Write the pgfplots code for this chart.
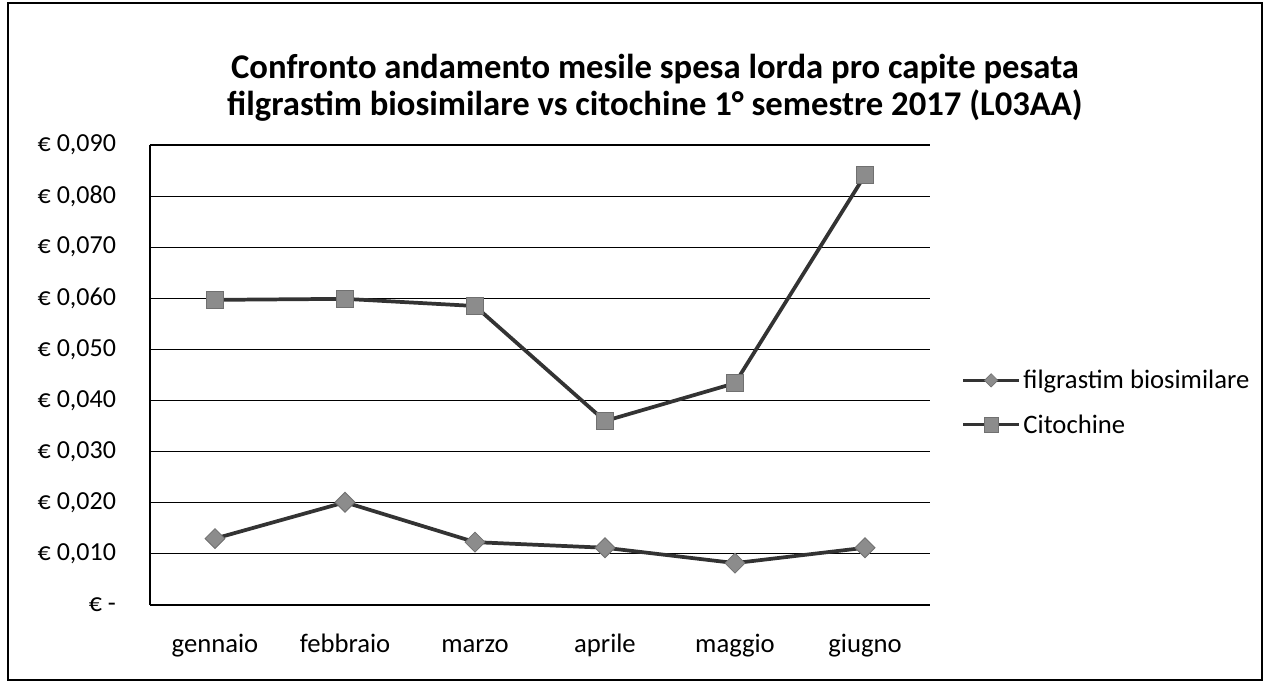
\documentclass[border=0pt]{standalone}
\usepackage{fontspec}
\setmainfont{Carlito}
\usepackage{pgfplots}
\pgfplotsset{compat=1.18}
\definecolor{linea}{HTML}{333333}
\definecolor{marca}{HTML}{8C8C8C}
\begin{document}
\begin{tikzpicture}[x=0.75pt,y=0.75pt]
% pagina: 1267x683 px, origine = angolo in basso a sinistra dell'area del grafico (150,605)
\useasboundingbox (-150,-78) rectangle (1117,605);
\draw[line width=1.2pt] (-142,-75) rectangle (1112,602);
\begin{axis}[
  scale only axis,
  width=585pt, height=345pt,
  at={(0,0)}, anchor=south west,
  xmin=-0.5, xmax=5.5,
  ymin=0, ymax=0.09,
  scaled y ticks=false,
  xtick={0,...,5},
  xticklabels={gennaio,febbraio,marzo,aprile,maggio,giugno},
  ytick={0,0.01,...,0.09},
  yticklabels={{€ -\hspace{1.1em}},{€ 0,010},{€ 0,020},{€ 0,030},{€ 0,040},{€ 0,050},{€ 0,060},{€ 0,070},{€ 0,080},{€ 0,090}},
  ymajorgrids,
  grid style={black, line width=0.9pt},
  axis x line*=bottom, axis y line*=left,
  axis line style={black, line width=0.9pt},
  major tick length=0pt,
  tick label style={font=\fontsize{20}{22}\selectfont},
  yticklabel style={font=\fontsize{19.5}{22}\selectfont, xshift=-22pt},
  xticklabel style={yshift=-25pt, text height=1.5ex, text depth=0.3ex},
  legend style={draw=none, fill=none, at={(1.035,0.44)}, anchor=west,
    font=\fontsize{20}{22}\selectfont, row sep=14pt},
  legend cell align=left,
  clip=false,
]
\addplot[linea, line width=2.8pt, mark=square*, mark size=5.3pt,
  mark options={rotate=45, fill=marca, draw=linea!70, line width=0.6pt},
  legend image code/.code={
    \draw[linea, line width=2.4pt] (0pt,0pt) -- (42pt,0pt);
    \draw[fill=marca, draw=linea!70, line width=0.5pt] (21pt,-5pt) -- (26pt,0pt) -- (21pt,5pt) -- (16pt,0pt) -- cycle;
  }] coordinates {
  (0,0.0130) (1,0.0201) (2,0.0123) (3,0.0112) (4,0.0082) (5,0.0112)};
\addlegendentry{filgrastim biosimilare}
\addplot[linea, line width=2.8pt, mark=square*, mark size=6.5pt,
  mark options={fill=marca, draw=linea!70, line width=0.6pt},
  legend image code/.code={
    \draw[linea, line width=2.4pt] (0pt,0pt) -- (42pt,0pt);
    \draw[fill=marca, draw=linea!70, line width=0.5pt] (15.5pt,-5.5pt) rectangle (26.5pt,5.5pt);
  }] coordinates {
  (0,0.0597) (1,0.0599) (2,0.0585) (3,0.0360) (4,0.0434) (5,0.0841)};
\addlegendentry{Citochine}
\end{axis}
\node[align=center, font=\bfseries\fontsize{26}{28}\selectfont] at (505,517)
  {Confronto andamento mesile spesa lorda pro capite pesata\\filgrastim biosimilare vs citochine 1° semestre 2017 (L03AA)};
\end{tikzpicture}
\end{document}
